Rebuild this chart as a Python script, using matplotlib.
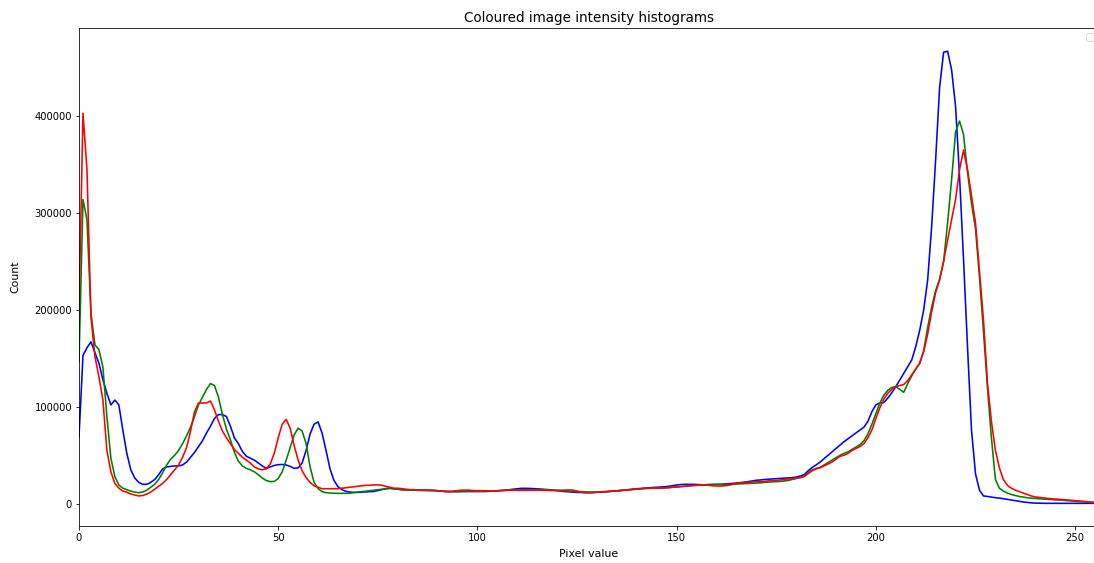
import numpy as np
import matplotlib
matplotlib.use('Agg')
import matplotlib.pyplot as plt

# pixel values 0..255
pixel = np.arange(256)

# counts per pixel value, in thousands
blue_k = [
    69, 153, 161, 167, 156, 145, 128, 114, 102, 107,
    102, 76, 52, 35, 26.5, 22, 20, 20, 22, 25,
    30, 36, 38, 38.5, 39, 39, 40, 43, 48, 53,
    59, 65, 73, 80, 88, 92, 92, 90, 80, 68,
    62, 54, 49, 47, 45, 42, 39, 36.5, 38, 39.5,
    40.3, 40.5, 40, 38.5, 36.5, 37, 42, 55, 72, 82,
    84.5, 73, 55, 36, 24, 17.5, 14.5, 12.8, 12, 11.7,
    11.7, 12, 12.2, 12.4, 12.6, 13.5, 14.5, 15.5, 15.9, 15.5,
    15, 14.5, 14.3, 14.2, 14, 14, 14, 14, 13.8, 13.5,
    13.3, 13, 12.8, 12.6, 12.5, 12.5, 12.5, 12.5, 12.5, 12.5,
    12.5, 12.5, 12.6, 12.8, 13, 13.3, 13.6, 14, 14.5, 15,
    15.5, 15.9, 15.9, 15.8, 15.6, 15.4, 15, 14.7, 14.5, 14,
    13.5, 13, 12.5, 12.2, 12, 11.7, 11.5, 11.4, 11.4, 11.5,
    11.7, 12, 12.3, 12.6, 13, 13.4, 13.8, 14.2, 14.6, 15.1,
    15.5, 15.9, 16.2, 16.5, 16.8, 17, 17.2, 17.5, 18, 18.7,
    19.3, 19.8, 20, 20, 20, 19.8, 19.6, 19.5, 19.7, 20,
    20, 20, 20.3, 20.6, 21, 21.4, 21.8, 22.2, 22.8, 23.5,
    24.2, 24.5, 25, 25.3, 25.6, 26, 26.2, 26.4, 26.6, 26.9,
    27.5, 28.5, 30, 34, 37.5, 40, 43, 46.5, 50, 53.5,
    57, 60.5, 64, 67, 70, 73, 76, 79, 85, 95,
    102, 104, 104.5, 109, 114.6, 120.8, 127.7, 134.6, 141.5, 148.4,
    162, 179, 200, 231, 286, 355, 430, 466, 467, 448,
    410, 338, 252, 162, 76, 31, 14, 8, 7.5, 6.8,
    6.2, 5.8, 5.2, 4.5, 3.8, 3.1, 2.4, 1.8, 1.3, 0.9,
    0.6, 0.5, 0.4, 0.4, 0.4, 0.4, 0.4, 0.4, 0.4, 0.4,
    0.4, 0.4, 0.4, 0.4, 0.4, 0.4,
]

green_k = [
    147, 314, 293, 197, 164, 159, 141, 90, 47, 28,
    19.3, 16, 14.5, 13, 12, 11.4, 12, 14, 17, 20,
    25, 32, 40, 46, 50, 55, 62, 70, 79, 90,
    102, 110, 118, 124, 122, 110, 92, 77, 66, 53,
    44, 39, 36.5, 35, 33, 30, 26.5, 24, 22.7, 23,
    26, 33, 45, 58, 71, 78, 75, 62, 38, 22,
    15.5, 12.5, 11.4, 11, 10.8, 10.7, 10.7, 10.7, 10.8, 11.5,
    12, 12.5, 13, 13.6, 14, 14.5, 15, 15.5, 15.9, 15.5,
    15, 14.5, 14.3, 14, 14, 13.8, 13.6, 13.5, 13.5, 13.5,
    13.3, 13, 12.5, 12.5, 12.5, 12.5, 12.7, 13, 13, 13,
    13, 13, 13, 13, 13, 13.2, 13.5, 13.8, 14, 14,
    14.2, 14.3, 14.3, 14.3, 14.3, 14.5, 14.5, 14.5, 14.3, 14,
    13.8, 13.5, 13.3, 13, 12.8, 12.6, 12.4, 12.2, 12, 12,
    12, 12.2, 12.4, 12.6, 13, 13.3, 13.6, 14, 14.3, 14.6,
    15, 15.3, 15.6, 15.9, 16, 16.2, 16.3, 16.5, 16.7, 17,
    17.3, 17.6, 18, 18.3, 18.6, 19, 19.3, 19.6, 19.8, 19.9,
    19.9, 19.8, 19.7, 19.7, 20, 20.3, 20.5, 20.7, 20.9, 21,
    21.2, 21.5, 22, 22.3, 22.5, 22.7, 23, 23.5, 24, 25,
    26, 27, 28.5, 32, 35, 36.5, 37.5, 40, 42.5, 45,
    47.5, 50, 52, 53.5, 56, 58.5, 61, 65, 72, 82,
    93, 104, 112, 117, 120, 121, 118, 115, 124, 132,
    139, 145, 158, 182, 203, 220, 232, 250, 290, 334,
    384, 395, 381, 342, 310, 284, 234, 178, 120, 68,
    25, 16, 13, 11, 9.5, 8.5, 7.5, 6.8, 6.2, 5.7,
    5.4, 5.1, 4.8, 4.6, 4.3, 4, 3.8, 3.5, 3.2, 2.9,
    2.6, 2.3, 2, 1.7, 1.3, 1.0,
]

red_k = [
    200, 403, 345, 193, 152, 131, 107, 55, 33, 21,
    16, 13, 12, 10, 9, 8, 8.5, 10, 12, 15,
    18, 21, 25, 30, 35, 40, 48, 58, 75, 95,
    104, 104, 104, 106, 97, 85, 75, 68, 62, 56,
    52, 48, 45, 42, 38, 36, 35, 36, 41, 52,
    68, 82, 87, 78, 60, 45, 34, 27, 22, 18.5,
    17, 15.5, 15.5, 15.5, 15.5, 15.5, 16, 16.5, 17, 17.5,
    18, 18.5, 19, 19, 19.5, 19.5, 19, 18, 17, 16,
    16, 15.5, 15, 14.5, 14.5, 14, 14, 14, 14, 14,
    13.5, 13, 12.5, 12.5, 13, 13.5, 14, 14, 14, 13.5,
    13.5, 13.6, 13.5, 13.3, 13.3, 13.5, 13.7, 13.9, 14, 14,
    13.9, 13.8, 13.8, 13.9, 14, 14.1, 14, 13.8, 13.6, 13.5,
    13.6, 13.8, 14, 14.3, 14, 13, 12, 11.5, 11.4, 11.5,
    12, 12.4, 12.4, 12.6, 13, 13, 13.5, 14, 14.5, 15,
    15, 15.5, 15.9, 16, 16, 16, 16, 16.2, 16.5, 17,
    17.3, 17.6, 18, 18.5, 19, 19, 19.3, 19.3, 19, 18.5,
    18.3, 18.3, 18.5, 19, 20, 21, 21.5, 22, 22, 22.5,
    22.7, 23, 23, 23.5, 24, 24, 24.5, 25, 25.5, 26,
    26.5, 27, 28, 31, 34, 36, 37, 39, 41, 43,
    46, 49, 50, 52, 55, 57, 59, 62, 68, 76,
    88, 99, 108, 114, 118, 121, 122, 123, 127, 133,
    139, 145, 157, 175, 198, 218, 231, 250, 272, 293,
    314, 345, 365, 345, 318, 290, 240, 190, 125, 85,
    55, 37, 25, 19, 16, 14, 12.5, 11, 9.5, 8,
    7, 6.5, 6, 5.5, 5.2, 5, 4.7, 4.4, 4, 3.6,
    3.2, 2.8, 2.4, 2, 1.7, 1.4,
]

channels = {'b': blue_k, 'g': green_k, 'r': red_k}

fig = plt.figure(figsize=(1094 / 72, 563 / 72), dpi=72)
# axes run a bit past the right edge, like the cropped original
ax = fig.add_axes([79 / 1094, 37 / 563, 1020 / 1094, 498 / 563])

for col, counts in channels.items():
    ax.plot(pixel, np.array(counts) * 1000, color=col, linewidth=1.6)

ax.set_xlim([0, 256])
ax.set_ylim([-23000, 491000])
ax.set_title('Coloured image intensity histograms', fontsize=13.5)
ax.set_xlabel('Pixel value', fontsize=11, labelpad=6)
ax.set_ylabel('Count', fontsize=11, labelpad=14)
ax.legend()

fig.savefig('out.png', dpi=72)
